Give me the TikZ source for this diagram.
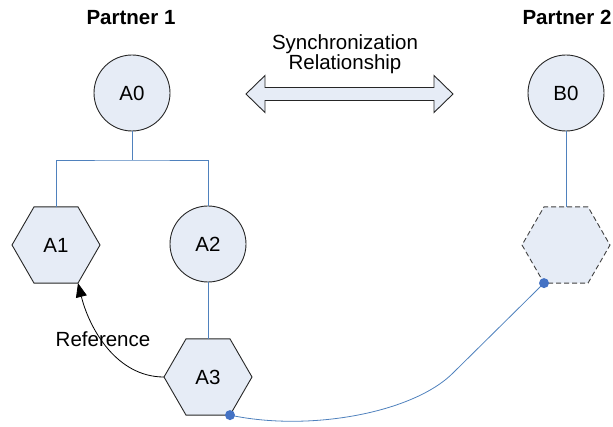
\documentclass[tikz,border=0pt]{standalone}
\usepackage{fontspec}
\setmainfont{Liberation Sans}
\usetikzlibrary{shapes.geometric,arrows.meta}
\definecolor{nodefill}{HTML}{E6ECF6}
\definecolor{linkblue}{HTML}{4F81BD}
\definecolor{dotblue}{HTML}{4472C4}
\begin{document}
\begin{tikzpicture}[x=1pt,y=1pt,
  every node/.style={font=\fontsize{20.5}{20}\selectfont},
  roundnode/.style={circle, draw=black!85, line width=0.9pt, fill=nodefill,
    minimum size=76pt, inner sep=0pt, outer sep=0pt},
  hexnode/.style={regular polygon, regular polygon sides=6, draw=black!85,
    line width=0.9pt, fill=nodefill, minimum size=88pt, inner sep=0pt, outer sep=0pt},
  ghost/.style={hexnode, draw=black!75, dash pattern=on 5pt off 3pt},
  link/.style={draw=linkblue, line width=0.8pt},
  refline/.style={draw=black, line width=0.8pt, -{Triangle[length=14pt,width=11pt]}},
  dot/.style={circle, fill=dotblue, inner sep=0pt, minimum size=10pt},
  heading/.style={font=\fontsize{20.5}{20}\selectfont\bfseries, anchor=base},
  txt/.style={anchor=base}
]
\useasboundingbox (0,0) rectangle (613,426);

% headings
\node[heading] (p1) at (131,401) {Partner 1};
\node[heading] (p2) at (567,401) {Partner 2};

% synchronization arrow and its caption
\node[txt] (s1) at (345,376) {Synchronization};
\node[txt] (s2) at (345,356) {Relationship};
\draw[draw=black!85, line width=0.9pt, fill=nodefill]
  (246,332) -- (265,350.5) -- (265,338.5) -- (434,338.5) -- (434,350.5)
  -- (453,332) -- (434,313.5) -- (434,325.5) -- (265,325.5) -- (265,313.5) -- cycle;

% partner 1 structure
\node[roundnode] (A0) at (132,333) {A0};
\node[hexnode] (A1) at (56,181) {A1};
\node[roundnode] (A2) at (208,182) {A2};
\node[hexnode] (A3) at (208,49) {A3};

% partner 2 structure
\node[roundnode] (B0) at (566,333) {B0};
\node[ghost] (B1) at (566,181) {};

% tree connectors
\draw[link] (A0.south) -- ++(0,-29) coordinate (bus);
\draw[link] (A1.north) |- (bus) -| (A2.north);
\draw[link] (A2.south) -- (A3.north);
\draw[link] (B0.south) -- (B1.north);

% reference from A3 to A1
\draw[refline] (A3.west) to[out=180,in=-76,looseness=0.95] (A1.-60);
\node[txt] (ref) at (103,80) {Reference};

% synchronization link between A3 and its counterpart
\draw[link] (A3.-60) .. controls (309,-6) and (413,13) .. (453,53) -- (B1.-120);
\node[dot] (d1) at (A3.-60) {};
\node[dot] (d2) at (B1.-120) {};
\end{tikzpicture}
\end{document}
